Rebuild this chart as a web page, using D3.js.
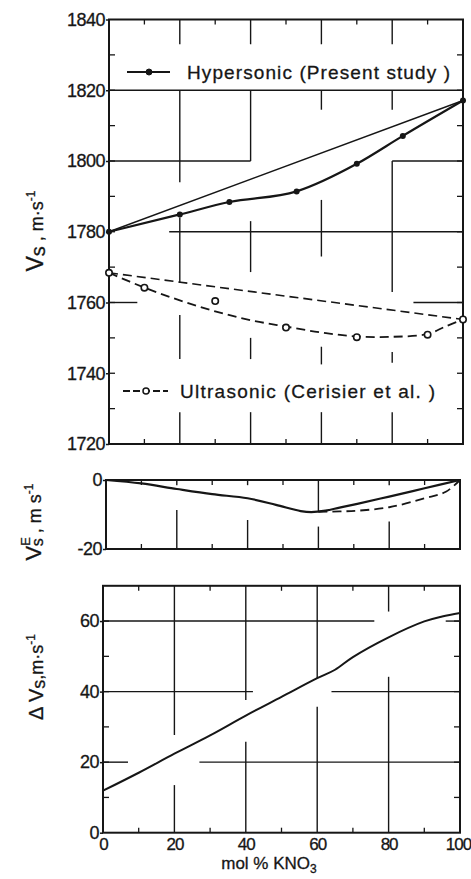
<!DOCTYPE html>
<html>
<head>
<meta charset="utf-8">
<script src="https://cdn.jsdelivr.net/npm/d3@7"></script>
<style>
body { margin: 0; background: #fff; }
svg { display: block; font-family: "Liberation Sans", Arial, sans-serif; }
svg text { stroke: #161616; stroke-width: 0.3px; }
</style>
</head>
<body>
<svg id="chart" width="471" height="879"></svg>
<script>
// tick labels
const xTicks = [0, 20, 40, 60, 80, 100]
const xMinor = [10, 30, 50, 70, 90]
const topTicks = [1720, 1740, 1760, 1780, 1800, 1820, 1840]
const topSide = [1730, 1740, 1750, 1760, 1770, 1780, 1790, 1800, 1810, 1820, 1830]
const midTicks = [-20, 0]
const botTicks = [0, 20, 40, 60]
const botSide = [10, 20, 30, 40, 50, 60]

// hypersonic (present study)
const hyperX = [0, 20, 34, 53, 70, 83, 100]
const hyperV = [1780, 1784.9, 1788.4, 1791.4, 1799.2, 1807.1, 1817.1]
// ultrasonic (Cerisier et al.)
const ultraX = [0, 10, 30, 50, 70, 90, 100]
const ultraV = [1768.4, 1764.2, 1760.4, 1752.9, 1750.2, 1750.9, 1755.2]
const ultraFitX = [0, 10, 20, 30, 40, 50, 60, 70, 80, 90, 95, 100]
const ultraFitV = [1768.4, 1764.2, 1760.6, 1757.5, 1755, 1753.2, 1751.5, 1750.4, 1750.3, 1751.1, 1753.2, 1755.2]
// ideal (linear) mixing lines
const idealX = [0, 100]
const hyperIdeal = [1780, 1817.1]
const ultraIdeal = [1768.4, 1755.2]

// excess velocity
const veX = [0, 10, 20, 30, 40, 48, 55, 58, 62, 66, 71, 80, 90, 100]
const veHyper = [0, -1.0, -2.6, -4.1, -5.3, -7.2, -9.0, -9.3, -8.9, -8.0, -6.9, -4.8, -2.4, 0]
const veUltraX = [60, 66, 71, 80, 90, 96, 100]
const veUltra = [-9.2, -9.1, -8.9, -7.9, -5.3, -3.4, 0]

// hypersonic - ultrasonic
const dvX = [0, 10, 20, 30, 40, 50, 60, 65, 70, 80, 90, 95, 100]
const dv = [11.9, 17, 22.4, 27.6, 33.2, 38.5, 43.8, 46.2, 49.8, 55.4, 59.9, 61.3, 62.3]

// broken grid lines, as drawn: [value, from, to]
const topH = [[1820, 0, 100], [1800, 0, 40], [1800, 80, 100], [1780, 17, 100], [1760, 0, 8], [1760, 86, 100]]
const topV = [[20, 1840, 1833], [40, 1840, 1833], [60, 1840, 1833], [80, 1840, 1833],
  [20, 1820, 1794], [20, 1784, 1765.5], [20, 1756.5, 1744], [20, 1729, 1720],
  [40, 1820, 1800], [40, 1783, 1768.6], [40, 1750, 1744], [40, 1729, 1720],
  [60, 1820, 1814.5], [60, 1789, 1773], [60, 1747.5, 1742.5], [60, 1729, 1720],
  [80, 1820, 1814.5], [80, 1800, 1763], [80, 1746, 1743], [80, 1729, 1720]]
const midH = []
const midV = [[20, 0, -1.5], [40, 0, -1.5], [80, 0, -1.5],
  [20, -20, -8.7], [40, -20, -11.6], [60, 0, -9.3], [60, -13.5, -20], [80, -20, -12]]
const botH = [[60, 0, 76], [60, 96, 100], [40, 0, 42], [40, 64, 100], [20, 0, 7], [20, 27, 100]]
const botV = [[20, 70, 27.7], [20, 13.5, 0], [40, 70, 37.6], [40, 25.8, 0],
  [60, 70, 43.8], [60, 35.7, 0], [80, 70, 62.7], [80, 44.2, 0]]

const svg = d3.select('#chart')
const ink = '#161616'

function panel(o) {
  const g = svg.append('g')
  const x = d3.scaleLinear().domain([0, 100]).range(o.xr)
  const y = d3.scaleLinear().domain(o.yd).range(o.yr)

  g.selectAll('line.h').data(o.hGrid).enter().append('line')
    .attr('x1', d => x(d[1])).attr('x2', d => x(d[2]))
    .attr('y1', d => y(d[0])).attr('y2', d => y(d[0]))
    .attr('stroke', ink).attr('stroke-width', 1.4)
  g.selectAll('line.v').data(o.vGrid).enter().append('line')
    .attr('x1', d => x(d[0])).attr('x2', d => x(d[0]))
    .attr('y1', d => y(d[1])).attr('y2', d => y(d[2]))
    .attr('stroke', ink).attr('stroke-width', 1.4)

  // small inward ticks
  const tk = g.append('g').attr('stroke', ink).attr('stroke-width', 1.3)
  xMinor.forEach(v => {
    tk.append('line').attr('x1', x(v)).attr('x2', x(v)).attr('y1', o.yr[1]).attr('y2', o.yr[1] + 5)
    tk.append('line').attr('x1', x(v)).attr('x2', x(v)).attr('y1', o.yr[0]).attr('y2', o.yr[0] - 5)
  })
  o.side.forEach(v => {
    tk.append('line').attr('x1', o.xr[0]).attr('x2', o.xr[0] + 6).attr('y1', y(v)).attr('y2', y(v))
    tk.append('line').attr('x1', o.xr[1]).attr('x2', o.xr[1] - 6).attr('y1', y(v)).attr('y2', y(v))
  })

  g.append('rect')
    .attr('x', o.xr[0]).attr('y', o.yr[1])
    .attr('width', o.xr[1] - o.xr[0]).attr('height', o.yr[0] - o.yr[1])
    .attr('fill', 'none').attr('stroke', ink).attr('stroke-width', 2)

  const ya = g.append('g')
    .attr('transform', `translate(${o.xr[0]},0)`)
    .call(d3.axisLeft(y).tickValues(o.ticks).tickSize(3).tickPadding(1).tickFormat(d3.format('d')))
  ya.select('.domain').remove()
  ya.selectAll('line').attr('stroke', ink).attr('stroke-width', 1.5)
  ya.selectAll('text').attr('fill', ink).style('font-size', '18px').style('letter-spacing', '-0.5px')
    .style('font-family', '"Liberation Sans", Arial, sans-serif').text(d => d < 0 ? '-' + Math.abs(d) : d)

  return { g, x, y }
}

const topP = panel({ xr: [109, 463], yd: [1720, 1840], yr: [444, 19.5], hGrid: topH, vGrid: topV, side: topSide, ticks: topTicks })
const midP = panel({ xr: [106, 460], yd: [-20, 0], yr: [549, 480], hGrid: midH, vGrid: midV, side: [], ticks: midTicks })
const botP = panel({ xr: [103, 460], yd: [0, 70], yr: [832.7, 585.8], hGrid: botH, vGrid: botV, side: botSide, ticks: botTicks })

function curve(p, xs, vs, curveType, width, dash) {
  const line = d3.line().x(d => p.x(d[0])).y(d => p.y(d[1])).curve(curveType)
  p.g.append('path')
    .datum(xs.map((v, i) => [v, vs[i]]))
    .attr('d', line)
    .attr('fill', 'none').attr('stroke', ink).attr('stroke-width', width)
    .attr('stroke-dasharray', dash)
}

const smooth = d3.curveCatmullRom.alpha(0.5)

// top panel
curve(topP, idealX, hyperIdeal, d3.curveLinear, 1.4, null)
curve(topP, idealX, ultraIdeal, d3.curveLinear, 1.6, '9,5')
curve(topP, hyperX, hyperV, d3.curveMonotoneX, 2.2, null)
curve(topP, ultraFitX, ultraFitV, smooth, 1.8, '9,5')

topP.g.selectAll('circle.h').data(hyperX).enter().append('circle')
  .attr('cx', d => topP.x(d)).attr('cy', (d, i) => topP.y(hyperV[i])).attr('r', 3)
  .attr('fill', ink)
topP.g.selectAll('circle.u').data(ultraX).enter().append('circle')
  .attr('cx', d => topP.x(d)).attr('cy', (d, i) => topP.y(ultraV[i])).attr('r', 3.2)
  .attr('fill', '#fff').attr('stroke', ink).attr('stroke-width', 1.6)

// middle panel
curve(midP, veX, veHyper, smooth, 2.2, null)
curve(midP, veUltraX, veUltra, smooth, 1.8, '9,5')

// bottom panel
curve(botP, dvX, dv, smooth, 2, null)

// x axis labels
const xa = botP.g.append('g')
  .attr('transform', 'translate(0,832.7)')
  .call(d3.axisBottom(botP.x).tickValues(xTicks).tickSize(0).tickPadding(5))
xa.select('.domain').remove()
xa.selectAll('text').attr('fill', ink).style('font-size', '17px').style('letter-spacing', '-1px')
  .style('font-family', '"Liberation Sans", Arial, sans-serif')
  .attr('dx', d => d === 100 ? -2 : 0)

const xt = svg.append('text').attr('x', 269).attr('y', 869).attr('text-anchor', 'middle')
  .attr('fill', ink).style('font-size', '17px')
xt.append('tspan').text('mol % KNO')
xt.append('tspan').attr('dy', 4).style('font-size', '12px').text('3')

// legends
const lg = svg.append('g').attr('stroke', ink)
lg.append('line').attr('x1', 127).attr('x2', 170).attr('y1', 72).attr('y2', 72).attr('stroke-width', 2)
lg.append('circle').attr('cx', 149).attr('cy', 72).attr('r', 3).attr('fill', ink)
lg.append('line').attr('x1', 123).attr('x2', 168).attr('y1', 391).attr('y2', 391)
  .attr('stroke-width', 1.8).attr('stroke-dasharray', '7,3')
lg.append('circle').attr('cx', 146).attr('cy', 391).attr('r', 3).attr('fill', '#fff').attr('stroke-width', 1.5)

svg.append('text').attr('x', 187).attr('y', 79).attr('fill', ink).style('font-size', '19px')
  .attr('textLength', 263).attr('lengthAdjust', 'spacing').text('Hypersonic  (Present  study )')
svg.append('text').attr('x', 180).attr('y', 398).attr('fill', ink).style('font-size', '19px')
  .attr('textLength', 255).attr('lengthAdjust', 'spacing').text('Ultrasonic  (Cerisier et al. )')

// y titles
const t1 = svg.append('text').attr('transform', 'translate(43,231) rotate(-90)')
  .attr('text-anchor', 'middle').attr('fill', ink).style('font-size', '18px')
t1.append('tspan').style('font-size', '23px').text('V')
t1.append('tspan').attr('dy', 2).style('font-size', '20px').text('s')
t1.append('tspan').attr('dy', -2).text(' , m·s')
t1.append('tspan').attr('dy', -8).style('font-size', '12px').text('-1')

const t2 = svg.append('text').attr('transform', 'translate(41,522) rotate(-90)')
  .attr('text-anchor', 'middle').attr('fill', ink).style('font-size', '18px')
t2.append('tspan').style('font-size', '22px').text('V')
t2.append('tspan').attr('dy', -11).style('font-size', '13px').text('E')
t2.append('tspan').attr('dx', -9).attr('dy', 13).style('font-size', '16px').text('s')
t2.append('tspan').attr('dy', -2).text(' , m s')
t2.append('tspan').attr('dy', -8).style('font-size', '12px').text('-1')

const t3 = svg.append('text').attr('transform', 'translate(43,677) rotate(-90)')
  .attr('text-anchor', 'middle').attr('fill', ink).style('font-size', '18px')
t3.append('tspan').style('font-size', '20px').text('Δ V')
t3.append('tspan').attr('dy', 2).style('font-size', '18px').text('s')
t3.append('tspan').attr('dy', -2).text(',m·s')
t3.append('tspan').attr('dy', -8).style('font-size', '12px').text('-1')
</script>
</body>
</html>
